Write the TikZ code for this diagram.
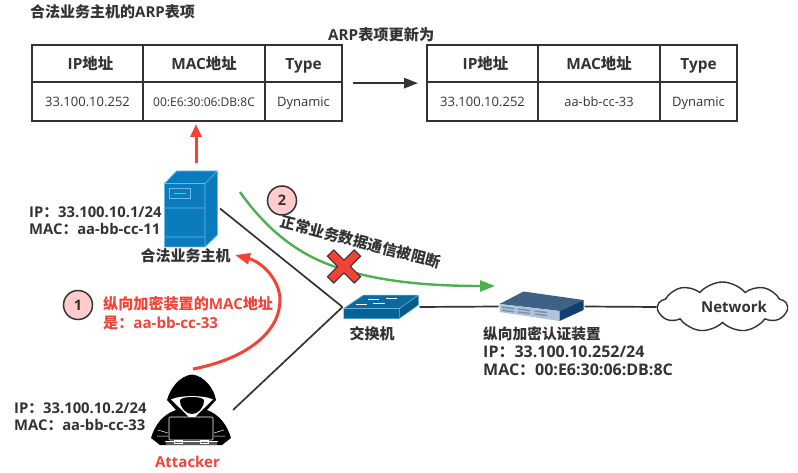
\documentclass[tikz,border=0pt]{standalone}
\usepackage{fontspec}
\setmainfont{Open Sans}
\newfontfamily\cjkfont{Noto Sans CJK SC}
\newcommand{\zh}[1]{{\cjkfont #1}}
\usetikzlibrary{arrows.meta,shapes.symbols}
\definecolor{inkgray}{HTML}{333333}
\definecolor{redline}{HTML}{F44336}
\definecolor{greenline}{HTML}{4CAF50}
\definecolor{pinkfill}{HTML}{FFCCCC}
\definecolor{srvblue}{HTML}{0A7CBE}
\definecolor{srvedge}{HTML}{6DB9E3}
\definecolor{swtop}{HTML}{0B6A9E}
\definecolor{swfront}{HTML}{056398}
\definecolor{devtop}{HTML}{3F6186}
\definecolor{devside}{HTML}{123F70}
\definecolor{devfront}{HTML}{AFC4DA}
\begin{document}
\begin{tikzpicture}[x=1pt,y=-1pt,text=inkgray,
    headcell/.style={draw=inkgray,line width=1.8pt,minimum height=37.5pt,inner sep=0pt,text height=16pt,text depth=3pt,font=\fontsize{15.4}{18}\selectfont\bfseries},
    datacell/.style={draw=inkgray,line width=1.8pt,minimum height=39pt,inner sep=0pt,text height=14pt,text depth=3pt,font=\fontsize{13}{16}\selectfont},
    info/.style={anchor=west,align=left,inner sep=0pt,font=\fontsize{14.8}{17.5}\selectfont\bfseries},
    redinfo/.style={info,text=redline,font=\fontsize{15.1}{19}\selectfont\bfseries},
    caption/.style={inner sep=0pt,font=\fontsize{15}{18}\selectfont\bfseries},
    stepmark/.style={circle,draw=inkgray,line width=1.5pt,fill=pinkfill,minimum size=29pt,inner sep=0pt,font=\fontsize{14.5}{17}\selectfont\bfseries},
    icon/.style={inner sep=0pt,outer sep=2pt},
    wire/.style={draw=inkgray,line width=1.7pt}]

  \useasboundingbox (0,0) rectangle (798,473);

  % the tables
  \node[headcell,minimum width=111pt] (ipa) at (87.5,63.5) {\hspace*{6pt}IP\zh{地址}};
  \node[headcell,minimum width=122pt] (maca) at (204,63.5) {MAC\zh{地址}};
  \node[headcell,minimum width=77pt] (typea) at (303.5,63.5) {Type};
  \node[datacell,minimum width=111pt] (ipvala) at (87.5,101.5) {33.100.10.252};
  \node[datacell,minimum width=122pt,font=\fontsize{12}{14}\selectfont] (macvala) at (204,101.5) {00:E6:30:06:DB:8C};
  \node[datacell,minimum width=77pt] (typevala) at (303.5,101.5) {Dynamic};

  \node[headcell,minimum width=111pt] (ipb) at (482.5,63.5) {\hspace*{6pt}IP\zh{地址}};
  \node[headcell,minimum width=122pt] (macb) at (599,63.5) {MAC\zh{地址}};
  \node[headcell,minimum width=77pt] (typeb) at (698.5,63.5) {Type};
  \node[datacell,minimum width=111pt] (ipvalb) at (482.5,101.5) {33.100.10.252};
  \node[datacell,minimum width=122pt,font=\fontsize{12.8}{14}\selectfont] (macvalb) at (599,101.5) {aa-bb-cc-33};
  \node[datacell,minimum width=77pt] (typevalb) at (698.5,101.5) {Dynamic};

  \node[info,font=\fontsize{15}{18}\selectfont\bfseries] (oldtitle) at (30,12) {\zh{合法业务主机的}ARP\zh{表项}};
  \node[info,font=\fontsize{15.2}{18}\selectfont\bfseries] (newtitle) at (328,35) {ARP\zh{表项更新为}};

  \draw[wire,line width=2.5pt,-{Triangle[length=14pt,width=10pt]},shorten <=10pt,shorten >=8pt]
    (typea.south east) -- (ipb.south west);

  % the server
  \fill[srvblue] (164.5,183.5) -- (176.5,171) -- (217.5,171) -- (217.5,235) -- (205,247) -- (164.5,247) -- cycle;
  \draw[srvedge,line width=.7pt,line join=round] (164.5,183.5) -- (176.5,171) -- (217.5,171) -- (217.5,235) -- (205,247)
    -- (164.5,247) -- cycle (164.5,183.5) -- (205,183.5) -- (217.5,171) (205,183.5) -- (205,247)
    (164.5,208) -- (205,208) (164.5,237) -- (205,237);
  \draw[srvedge,line width=.7pt] (169,188.5) rectangle (190,198) (174,193.3) -- (186,193.3);
  \node[icon,minimum width=54pt,minimum height=77pt] (server) at (191,208.5) {};

  % the attacker
  \fill[black] (192,374.5) .. controls (205,376) and (214,389) .. (216,400) -- (207,410)
    .. controls (220,415) and (227,425) .. (231,438) -- (222,445) -- (160,445) -- (151,438)
    .. controls (155,425) and (162,415) .. (176,410) -- (167,400) .. controls (170,389) and (179,376) .. (192,374.5) -- cycle;
  \fill[white] (171,399.5) .. controls (180,395) and (204,395) .. (213,399.5) -- (195,417) -- (189,417) -- cycle;
  \fill[black] (180,400) .. controls (182,396) and (202,396) .. (204,400) .. controls (204,408) and (198,414) .. (192,414)
    .. controls (186,414) and (180,408) .. (180,400) -- cycle;
  \draw[white,line width=.6pt,fill=black,rounded corners=1pt] (169,417) rectangle (213,440);
  \draw[white,line width=.5pt] (158,430) -- (168,433) (157,436) -- (168,436) (224,430) -- (214,433) (225,436) -- (214,436);
  \fill[white] (165,440.5) rectangle (218,442);
  \fill[black!65] (166,442) rectangle (217,445);
  \draw[white,line width=.5pt] (174,440) rectangle (182,443.5) (200,440) rectangle (208,443.5);
  \node[icon,minimum width=80pt,minimum height=72pt] (attacker) at (191,410) {};

  % the switch
  \fill[swtop] (343.5,308.5) -- (363.5,295) -- (418.5,295) -- (399.5,308.5) -- cycle;
  \fill[swfront] (343.5,308.5) rectangle (399.5,318.5);
  \fill[swtop!85!black] (399.5,308.5) -- (418.5,295) -- (418.5,305) -- (399.5,318.5) -- cycle;
  \draw[srvedge,line width=.5pt] (343.5,318.5) -- (343.5,308.5) -- (363.5,295) -- (418.5,295) -- (418.5,305) -- (399.5,318.5)
    -- (343.5,318.5) (343.5,308.5) -- (399.5,308.5) -- (418.5,295) (399.5,308.5) -- (399.5,318.5);
  \draw[white,line width=.6pt] (356,304.5) -- (367,304.5) (373,303) -- (385,303) (368,299.5) -- (379,299.5) (386,298) -- (397,298);
  \node[icon,outer sep=1pt,minimum width=75pt,minimum height=24pt] (switch) at (381,307) {};

  % the device
  \fill[devtop] (499.5,304) -- (523.5,291.5) -- (583.5,300) -- (559.5,311) -- cycle;
  \fill[devfront] (499.5,304) -- (559.5,311) -- (559.5,321) -- (499.5,312) -- cycle;
  \fill[devside] (559.5,311) -- (583.5,300) -- (583.5,310) -- (559.5,321) -- cycle;
  \foreach \px/\py in {502/306.5,518/308.3,535/310.3}{
    \fill[devtop!70] (\px,\py) -- (\px+12,\py+1.5) -- (\px+12,\py+3) -- (\px,\py+1.5) -- cycle;
    \fill[devtop!70] (\px,\py+3) -- (\px+12,\py+4.5) -- (\px+12,\py+6) -- (\px,\py+4.5) -- cycle;
  }
  \node[icon,outer sep=1pt,minimum width=84pt,minimum height=30pt] (device) at (541.5,306.5) {};

  % the cloud
  \node[cloud,draw=inkgray,line width=1.4pt,cloud puffs=9,cloud puff arc=100,aspect=2.8,minimum width=129pt,minimum height=50pt,inner sep=0pt] (network) at (722.5,307) {};
  \node[caption] (nettext) at (734,307) {Network};

  % the links
  \draw[wire] (server.east) -- (switch.west);
  \draw[wire] (attacker.east) -- (switch.west);
  \draw[wire] (switch.east) -- (device.west);
  \draw[wire] (device.east) -- (network.west);

  % the flows
  \coordinate (srvtop) at (196,163);
  \coordinate (tabbot) at (196,124);
  \coordinate (atktop) at (193,369);
  \coordinate (srvlabel) at (235,255);
  \coordinate (greenstart) at (240,192);
  \coordinate (greenend) at (495,286);
  \draw[redline,line width=3pt,-{Triangle[length=13pt,width=11pt]}] (srvtop) -- (tabbot);
  \draw[redline,line width=3pt,-{Triangle[length=15pt,width=11pt]}] (atktop) .. controls (250,358) and (280,330) .. (280,300)
    .. controls (280,280) and (262,262) .. (srvlabel);
  \draw[greenline,line width=2.4pt,-{Triangle[length=15pt,width=11pt]}] (greenstart) .. controls (268,232) and (300,254) .. (330,265)
    .. controls (370,280) and (420,286) .. (greenend);

  % the block mark
  \draw[inkgray,fill=redline,line width=1.2pt,line join=round,shift={(344,266.5)},rotate=45]
    (-19,-4.5) -- (-4.5,-4.5) -- (-4.5,-19) -- (4.5,-19) -- (4.5,-4.5) -- (19,-4.5)
    -- (19,4.5) -- (4.5,4.5) -- (4.5,19) -- (-4.5,19) -- (-4.5,4.5) -- (-19,4.5) -- cycle;

  % the texts
  \node[stepmark] (one) at (78,305) {1};
  \node[stepmark] (two) at (282,200.5) {2};
  \node[info] (srvinfo) at (29,220.5) {IP\zh{：}33.100.10.1/24\\MAC\zh{：}aa-bb-cc-11};
  \node[caption] (srvname) at (185.5,256) {\zh{合法业务主机}};
  \node[redinfo] (spoof) at (103,313.5) {\zh{纵向加密装置的}MAC\zh{地址}\\\zh{是：}aa-bb-cc-33};
  \node[info] (atkinfo) at (14,416.5) {IP\zh{：}33.100.10.2/24\\MAC\zh{：}aa-bb-cc-33};
  \node[caption,text=redline] (atkname) at (187.5,462) {Attacker};
  \node[caption] (swname) at (372,334) {\zh{交换机}};
  \node[info,font=\fontsize{16}{18}\selectfont\bfseries] (devinfo) at (483,351) {{\fontsize{14.7}{18}\selectfont\zh{纵向加密认证装置}}\\IP\zh{：}33.100.10.252/24\\MAC\zh{：}00:E6:30:06:DB:8C};
  \node[caption,rotate=-14.5] (blocked) at (361,242) {\zh{正常业务数据通信被阻断}};
\end{tikzpicture}
\end{document}
